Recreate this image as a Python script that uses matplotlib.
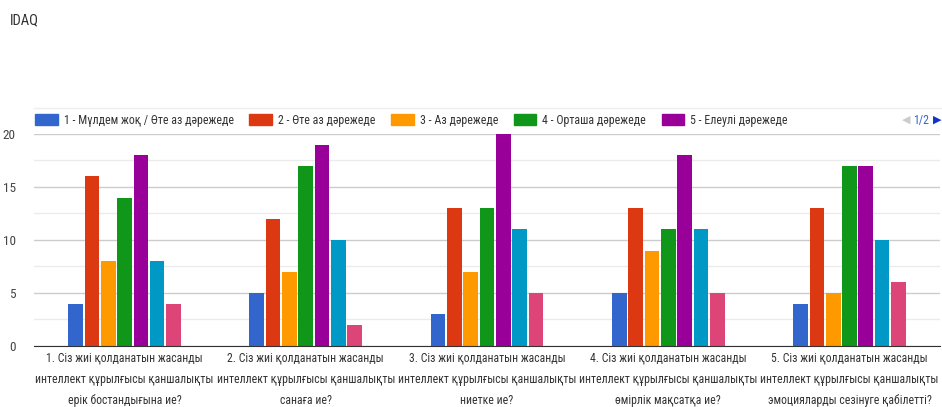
import numpy as np
import matplotlib.pyplot as plt
from matplotlib.patches import Patch
from matplotlib import font_manager

# pick a narrow font if one is installed
narrow = None
for fam in ['Liberation Sans Narrow', 'Roboto Condensed', 'Arial Narrow', 'Open Sans Condensed']:
    try:
        font_manager.findfont(fam, fallback_to_default=False)
        narrow = fam
        break
    except ValueError:
        pass
if narrow:
    plt.rcParams['font.family'] = [narrow, 'DejaVu Sans']
    fs_tick, fs_leg = 8.5, 8.6
else:
    plt.rcParams['font.family'] = ['Liberation Sans', 'DejaVu Sans']
    fs_tick, fs_leg = 8.2, 7.8

# data
questions = [
    "1. Сіз жиі қолданатын жасанды\nинтеллект құрылғысы қаншалықты\nерік бостандығына ие?",
    "2. Сіз жиі қолданатын жасанды\nинтеллект құрылғысы қаншалықты\nсанаға ие?",
    "3. Сіз жиі қолданатын жасанды\nинтеллект құрылғысы қаншалықты\nниетке ие?",
    "4. Сіз жиі қолданатын жасанды\nинтеллект құрылғысы қаншалықты\nөмірлік мақсатқа ие?",
    "5. Сіз жиі қолданатын жасанды\nинтеллект құрылғысы қаншалықты\nэмоцияларды сезінуге қабілетті?",
]
series_names = [
    "1 - Мүлдем жоқ / Өте аз дәрежеде",
    "2 - Өте аз дәрежеде",
    "3 - Аз дәрежеде",
    "4 - Орташа дәрежеде",
    "5 - Елеулі дәрежеде",
]
s1 = [4, 5, 3, 5, 4]
s2 = [16, 12, 13, 13, 13]
s3 = [8, 7, 7, 9, 5]
s4 = [14, 17, 13, 11, 17]
s5 = [18, 19, 20, 18, 17]
s6 = [8, 10, 11, 11, 10]
s7 = [4, 2, 5, 5, 6]
all_series = [s1, s2, s3, s4, s5, s6, s7]
colors = ["#3366CC", "#DC3912", "#FF9900", "#109618", "#990099", "#0099C6", "#DD4477"]

fig = plt.figure(figsize=(9.42, 4.07), dpi=100)
ax = fig.add_axes([0.036, 0.150, 0.962, 0.521])

x = np.arange(len(questions))
n = len(all_series)
bw = 0.63 / n
for i, vals in enumerate(all_series):
    ax.bar(x + (i - (n - 1) / 2) * bw, vals, width=bw * 0.9, color=colors[i], zorder=3)

ax.set_xlim(-0.5, 4.5)
ax.set_ylim(0, 20)
ax.set_yticks([0, 5, 10, 15, 20])
ax.set_yticks([2.5, 7.5, 12.5, 17.5], minor=True)
ax.grid(axis='y', which='major', color='#cccccc', lw=1, zorder=0)
ax.grid(axis='y', which='minor', color='#ebebeb', lw=1, zorder=0)
ax.tick_params(axis='y', which='both', length=0, labelsize=9.5,
               labelcolor='#444444', pad=13)
ax.set_xticks(x)
ax.set_xticklabels(questions, fontsize=fs_tick, color='#333333', linespacing=1.8)
ax.tick_params(axis='x', length=0, pad=4)
for sp in ['top', 'right', 'left']:
    ax.spines[sp].set_visible(False)
ax.spines['bottom'].set_color('#333333')
ax.spines['bottom'].set_zorder(4)

handles = [Patch(color=c) for c in colors[:5]]
fig.legend(handles, series_names, loc='center left', bbox_to_anchor=(0.026, 0.705),
           ncol=5, frameon=False, fontsize=fs_leg, handlelength=1.9, handleheight=1.1,
           handletextpad=0.5, columnspacing=1.3, labelcolor='#333333')
fig.text(0.966, 0.705, "◀", color='#cccccc', fontsize=8, va='center', ha='right',
         family='DejaVu Sans')
fig.text(0.978, 0.705, "1/2", color='#3366CC', fontsize=fs_leg, va='center', ha='center')
fig.text(0.990, 0.705, "▶", color='#1133cc', fontsize=8, va='center', ha='left',
         family='DejaVu Sans')
fig.add_artist(plt.Line2D([0.036, 1.0], [0.735, 0.735], color='#eeeeee', lw=1))

fig.text(0.011, 0.95, "IDAQ", fontsize=10.5, color='#333333', va='center')

fig.savefig("out.png", dpi=100, facecolor='white')
